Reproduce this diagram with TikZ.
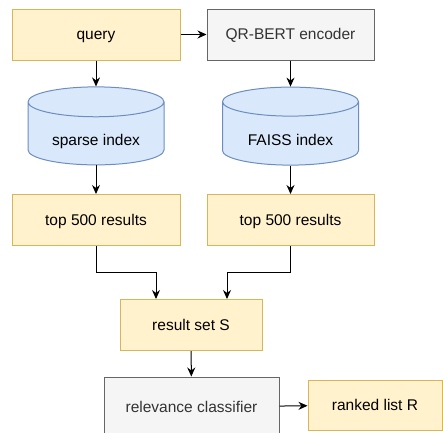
\documentclass[tikz,border=0pt]{standalone}
\usepackage{fontspec}
\setmainfont{Liberation Sans}
\usetikzlibrary{arrows.meta,shapes.geometric}
\definecolor{yfill}{HTML}{FFF2CC}
\definecolor{ydraw}{HTML}{D6B656}
\definecolor{bfill}{HTML}{DAE8FC}
\definecolor{bdraw}{HTML}{6C8EBF}
\definecolor{gfill}{HTML}{F5F5F5}
\definecolor{gdraw}{HTML}{666666}
\definecolor{gtext}{HTML}{333333}
\begin{document}
\begin{tikzpicture}[x=1pt,y=1pt,line width=1pt,
  font=\fontsize{15.5}{18}\selectfont,
  link/.style={-{Stealth[length=9pt,width=8pt]}},
  yellowbox/.style={draw=ydraw,fill=yfill,minimum width=168pt,minimum height=51pt,
    inner sep=0pt,text height=12pt,text depth=1.4pt},
  greybox/.style={draw=gdraw,fill=gfill,text=gtext,minimum height=51pt,
    inner sep=0pt,text height=12pt,text depth=1.4pt},
  store/.style={cylinder,shape border rotate=90,aspect=0.34,draw=bdraw,fill=bfill,
    minimum width=136pt,minimum height=78pt,inner sep=0pt,text height=24.7pt,text depth=1.4pt}]
  \useasboundingbox (0,0) rectangle (443,-432);
  \node[yellowbox] (query) at (96,-34.5) {query};
  \node[greybox,minimum width=167pt] (enc) at (290.5,-34.5) {QR-BERT encoder};
  \node[store] (sparse) at (96,-133.6) {sparse index};
  \node[store] (faiss) at (290.5,-133.6) {FAISS index};
  \node[yellowbox] (top1) at (96,-220) {top 500 results};
  \node[yellowbox,minimum width=167pt] (top2) at (290.5,-220) {top 500 results};
  \node[yellowbox,minimum width=142pt] (res) at (191,-325) {result set S};
  \node[greybox,minimum width=175pt,minimum height=60pt] (clf) at (191.5,-407) {relevance classifier};
  \node[yellowbox,minimum width=134pt,minimum height=50pt] (rank) at (375,-405) {ranked list R};
  \draw [link] (query) -- (enc);
  \draw [link] (query) -- (sparse);
  \draw [link] (enc) -- (faiss);
  \draw [link] (sparse) -- (top1);
  \draw [link] (faiss) -- (top2);
  \draw [link] (top1.south) -- ++(0,-26) -| ([xshift=-35pt]res.north);
  \draw [link] (top2.south) -- ++(0,-26) -| ([xshift=36pt]res.north);
  \draw [link] (res) -- (clf);
  \draw [link] (clf) -- (rank);
\end{tikzpicture}
\end{document}
